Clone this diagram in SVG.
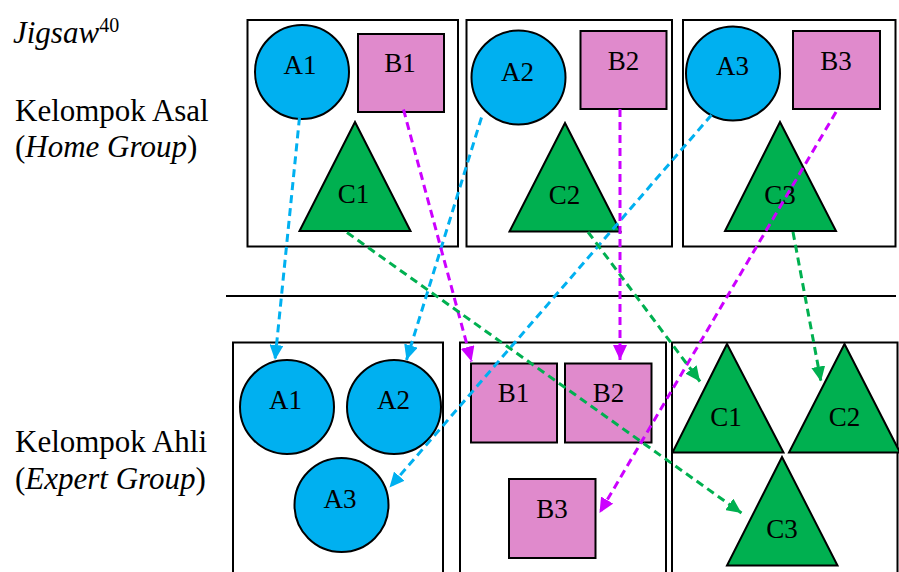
<svg xmlns="http://www.w3.org/2000/svg" width="899" height="572" viewBox="0 0 899 572">
<defs>
<style>
text{font-family:'Liberation Serif','Tinos','Times New Roman','DejaVu Serif',serif;fill:#000}
.big{font-size:31px}
.lab{font-size:27px;text-anchor:middle}
.box{fill:none;stroke:#000;stroke-width:2}
.cir{fill:#00B0F0;stroke:#000;stroke-width:2}
.sq{fill:#E08ACC;stroke:#000;stroke-width:2}
.tri{fill:#00B050;stroke:#000;stroke-width:2;stroke-linejoin:miter}
.cb{stroke:#00B0F0;stroke-width:3;stroke-dasharray:8 5;fill:none}
.cm{stroke:#CC00FF;stroke-width:3;stroke-dasharray:8 5;fill:none}
.cg{stroke:#00B050;stroke-width:3;stroke-dasharray:8 5;fill:none}
</style>
<marker id="ab" markerUnits="userSpaceOnUse" markerWidth="15" markerHeight="14" refX="15" refY="7" orient="auto"><path d="M0,0 L15,7 L0,14 z" fill="#00B0F0"/></marker>
<marker id="am" markerUnits="userSpaceOnUse" markerWidth="15" markerHeight="14" refX="15" refY="7" orient="auto"><path d="M0,0 L15,7 L0,14 z" fill="#CC00FF"/></marker>
<marker id="ag" markerUnits="userSpaceOnUse" markerWidth="15" markerHeight="14" refX="15" refY="7" orient="auto"><path d="M0,0 L15,7 L0,14 z" fill="#00B050"/></marker>
</defs>
<rect width="899" height="572" fill="#fff"/>
<g id="titles" font-family="Liberation Serif, serif">
<text class="big" x="13" y="43"><tspan font-style="italic">Jigsaw</tspan><tspan font-size="20" dy="-11">40</tspan></text>
<text class="big" x="15" y="120.5">Kelompok Asal</text>
<text class="big" x="15" y="157">(<tspan font-style="italic">Home Group</tspan>)</text>
<text class="big" x="15" y="451.5">Kelompok Ahli</text>
<text class="big" x="15" y="488.5">(<tspan font-style="italic">Expert Group</tspan>)</text>
</g>
<g id="frames">
<rect class="box" x="247.5" y="20" width="210.5" height="226.5"/>
<rect class="box" x="466.5" y="20" width="205.5" height="226.5"/>
<rect class="box" x="683" y="20" width="212.5" height="226.5"/>
<line x1="226" y1="296" x2="896" y2="296" stroke="#000" stroke-width="2"/>
<rect class="box" x="233" y="342.5" width="210" height="240"/>
<rect class="box" x="460" y="342.5" width="206" height="240"/>
<rect class="box" x="672" y="342.5" width="225.5" height="240"/>
</g>
<g id="home-A1"><circle class="cir" cx="302" cy="72" r="47"/><text class="lab" x="300" y="74">A1</text></g>
<g id="home-B1"><rect class="sq" x="358" y="34" width="86" height="78"/><text class="lab" x="400" y="71.5">B1</text></g>
<g id="home-C1"><polygon class="tri" points="355,122 299.5,231 410.5,231"/><text class="lab" x="353.5" y="202.5">C1</text></g>
<g id="home-A2"><circle class="cir" cx="518.5" cy="77.5" r="47"/><text class="lab" x="517.5" y="80.5">A2</text></g>
<g id="home-B2"><rect class="sq" x="580.5" y="31" width="86" height="78"/><text class="lab" x="623.5" y="69.5">B2</text></g>
<g id="home-C2"><polygon class="tri" points="565,123 509.5,231.5 620.5,231.5"/><text class="lab" x="564.5" y="204">C2</text></g>
<g id="home-A3"><circle class="cir" cx="733" cy="73.5" r="47"/><text class="lab" x="732.5" y="75">A3</text></g>
<g id="home-B3"><rect class="sq" x="793" y="31" width="87" height="78"/><text class="lab" x="836" y="69.5">B3</text></g>
<g id="home-C3"><polygon class="tri" points="780,122 725,231 836,231"/><text class="lab" x="780" y="203.5">C3</text></g>
<g id="expert-A1"><circle class="cir" cx="287" cy="407" r="47"/><text class="lab" x="285.5" y="409">A1</text></g>
<g id="expert-A2"><circle class="cir" cx="394" cy="407" r="47"/><text class="lab" x="393.5" y="409">A2</text></g>
<g id="expert-A3"><circle class="cir" cx="341.5" cy="505" r="47"/><text class="lab" x="340" y="507.5">A3</text></g>
<g id="expert-B1"><rect class="sq" x="471" y="363.5" width="86" height="79"/><text class="lab" x="513.5" y="401.5">B1</text></g>
<g id="expert-B2"><rect class="sq" x="565" y="363.5" width="86.5" height="79"/><text class="lab" x="608.5" y="401.5">B2</text></g>
<g id="expert-B3"><rect class="sq" x="509" y="479" width="86.5" height="79"/><text class="lab" x="552" y="517.5">B3</text></g>
<g id="expert-C1"><polygon class="tri" points="727,344 672.5,452.5 783.5,452.5"/><text class="lab" x="726" y="425.5">C1</text></g>
<g id="expert-C2"><polygon class="tri" points="844.5,344 789,452.5 900,452.5"/><text class="lab" x="844.5" y="425.5">C2</text></g>
<g id="expert-C3"><polygon class="tri" points="782,457 727,565.5 837.5,565.5"/><text class="lab" x="782" y="537.5">C3</text></g>
<g id="connectors">
<line class="cb" x1="299.5" y1="117.5" x2="275" y2="360" marker-end="url(#ab)"/>
<line class="cb" x1="481.5" y1="117.5" x2="406.5" y2="360" marker-end="url(#ab)"/>
<line class="cb" x1="711.5" y1="115" x2="389.5" y2="487.5" marker-end="url(#ab)"/>
<line class="cm" x1="403.5" y1="109.5" x2="471.5" y2="361.5" marker-end="url(#am)"/>
<line class="cm" x1="620" y1="109" x2="620" y2="360" marker-end="url(#am)"/>
<line class="cm" x1="836" y1="112" x2="599.5" y2="513" marker-end="url(#am)"/>
<line class="cg" x1="347" y1="232.5" x2="741.5" y2="513" marker-end="url(#ag)"/>
<line class="cg" x1="588" y1="232" x2="700" y2="381.5" marker-end="url(#ag)"/>
<line class="cg" x1="793" y1="232" x2="821" y2="381.5" marker-end="url(#ag)"/>
</g>
</svg>
